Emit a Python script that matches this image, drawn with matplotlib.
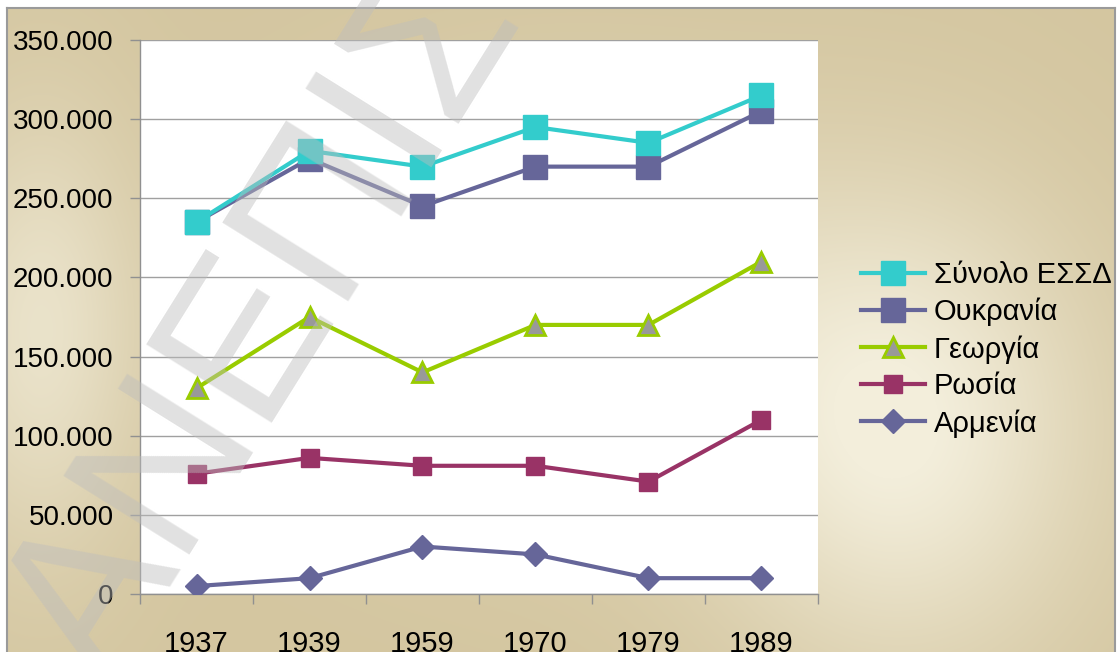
import numpy as np
import matplotlib
matplotlib.use("Agg")
from matplotlib import pyplot as plt
from matplotlib.ticker import FuncFormatter, FixedLocator

plt.rcParams['font.family'] = ['Liberation Sans', 'DejaVu Sans']

years = ["1937", "1939", "1959", "1970", "1979", "1989"]
total_ussr = [235000, 280000, 270000, 295000, 285000, 315000]
ukraine = [235000, 275000, 245000, 270000, 270000, 305000]
georgia = [130000, 175000, 140000, 170000, 170000, 210000]
russia = [76000, 86000, 81000, 81000, 71000, 110000]
armenia = [5000, 10000, 30000, 25000, 10000, 10000]

W, H = 1119, 652
fig = plt.figure(figsize=(W / 100, H / 100), dpi=100, facecolor="white")


def fx(px):
    return px / W


def fy(py):
    return 1 - py / H


# parchment style background
bg = fig.add_axes([fx(7), 0, fx(1115) - fx(7), fy(8)], zorder=0)
yy, xx = np.mgrid[8:652, 7:1115]
tan = np.array([212, 198, 160]) / 255
light = np.array([243, 238, 219]) / 255
spot1 = np.exp(-(((xx - 900) / 190) ** 2 + ((yy - 430) / 230) ** 2))
spot2 = 0.7 * np.exp(-(((xx - 40) / 100) ** 2 + ((yy - 330) / 220) ** 2))
spot3 = 0.5 * np.exp(-(((xx - 560) / 260) ** 2 + ((yy - 300) / 200) ** 2))
k = np.clip(spot1 + spot2 + spot3, 0, 1)[..., None]
img = tan * (1 - k) + light * k
bg.imshow(img, aspect="auto", interpolation="bilinear")
bg.set_xticks([])
bg.set_yticks([])
bg.spines["bottom"].set_visible(False)
for side in ["left", "top", "right"]:
    bg.spines[side].set_color("#9a9a9a")
    bg.spines[side].set_linewidth(1.5)

ax = fig.add_axes([fx(140), fy(594), fx(818) - fx(140), fy(40) - fy(594)], zorder=1)
ax.set_facecolor("white")
x = np.arange(len(years))

ax.plot(x, armenia, color="#666699", lw=3, marker="D", ms=12, label="Αρμενία", zorder=3)
ax.plot(x, russia, color="#993366", lw=3, marker="s", ms=13, label="Ρωσία", zorder=3)
ax.plot(x, georgia, color="#99CC00", lw=3, marker="^", ms=15, mfc="#999999",
        mec="#99CC00", mew=2, label="Γεωργία", zorder=3)
ax.plot(x, ukraine, color="#666699", lw=3, marker="s", ms=17, label="Ουκρανία", zorder=3)
ax.plot(x, total_ussr, color="#33CCCC", lw=3, marker="s", ms=17, label="Σύνολο ΕΣΣΔ", zorder=4)

ax.set_xlim(-0.5, len(years) - 0.5)
ax.set_ylim(0, 350000)
ax.yaxis.set_major_locator(FixedLocator(np.arange(0, 350001, 50000)))
ax.yaxis.set_major_formatter(FuncFormatter(lambda v, p: f"{int(v):,}".replace(",", ".")))
ax.grid(axis="y", color="#a0a0a0", lw=1)
ax.set_axisbelow(True)

ax.set_xticks(x)
ax.set_xticklabels(years)
ax.set_xticks(np.arange(-0.5, len(years)), minor=True)
ax.tick_params(axis="x", which="major", length=0, pad=26, labelsize=21)
ax.tick_params(axis="x", which="minor", length=7, color="#909090", width=1)
ax.tick_params(axis="y", length=7, color="#909090", width=1, pad=12, labelsize=20)

for side in ["top", "right"]:
    ax.spines[side].set_visible(False)
for side in ["left", "bottom"]:
    ax.spines[side].set_color("#909090")
    ax.spines[side].set_linewidth(1)

handles, labels = ax.get_legend_handles_labels()
order = [4, 3, 2, 1, 0]
leg = fig.legend([handles[i] for i in order], [labels[i] for i in order],
                 loc="upper left", bbox_to_anchor=(fx(861), fy(261)),
                 frameon=False, fontsize=21, handlelength=2.2, handletextpad=0.3,
                 labelspacing=0.3, borderpad=0, borderaxespad=0)

# watermark
fig.text(fx(105), fy(690), "ΑΝΕΠΙΣΤΗΜΙΟ", rotation=58, rotation_mode="anchor",
         ha="left", va="baseline", fontsize=155, color="#bdbdbd", alpha=0.45, zorder=10)

fig.savefig("out.png", dpi=100)
